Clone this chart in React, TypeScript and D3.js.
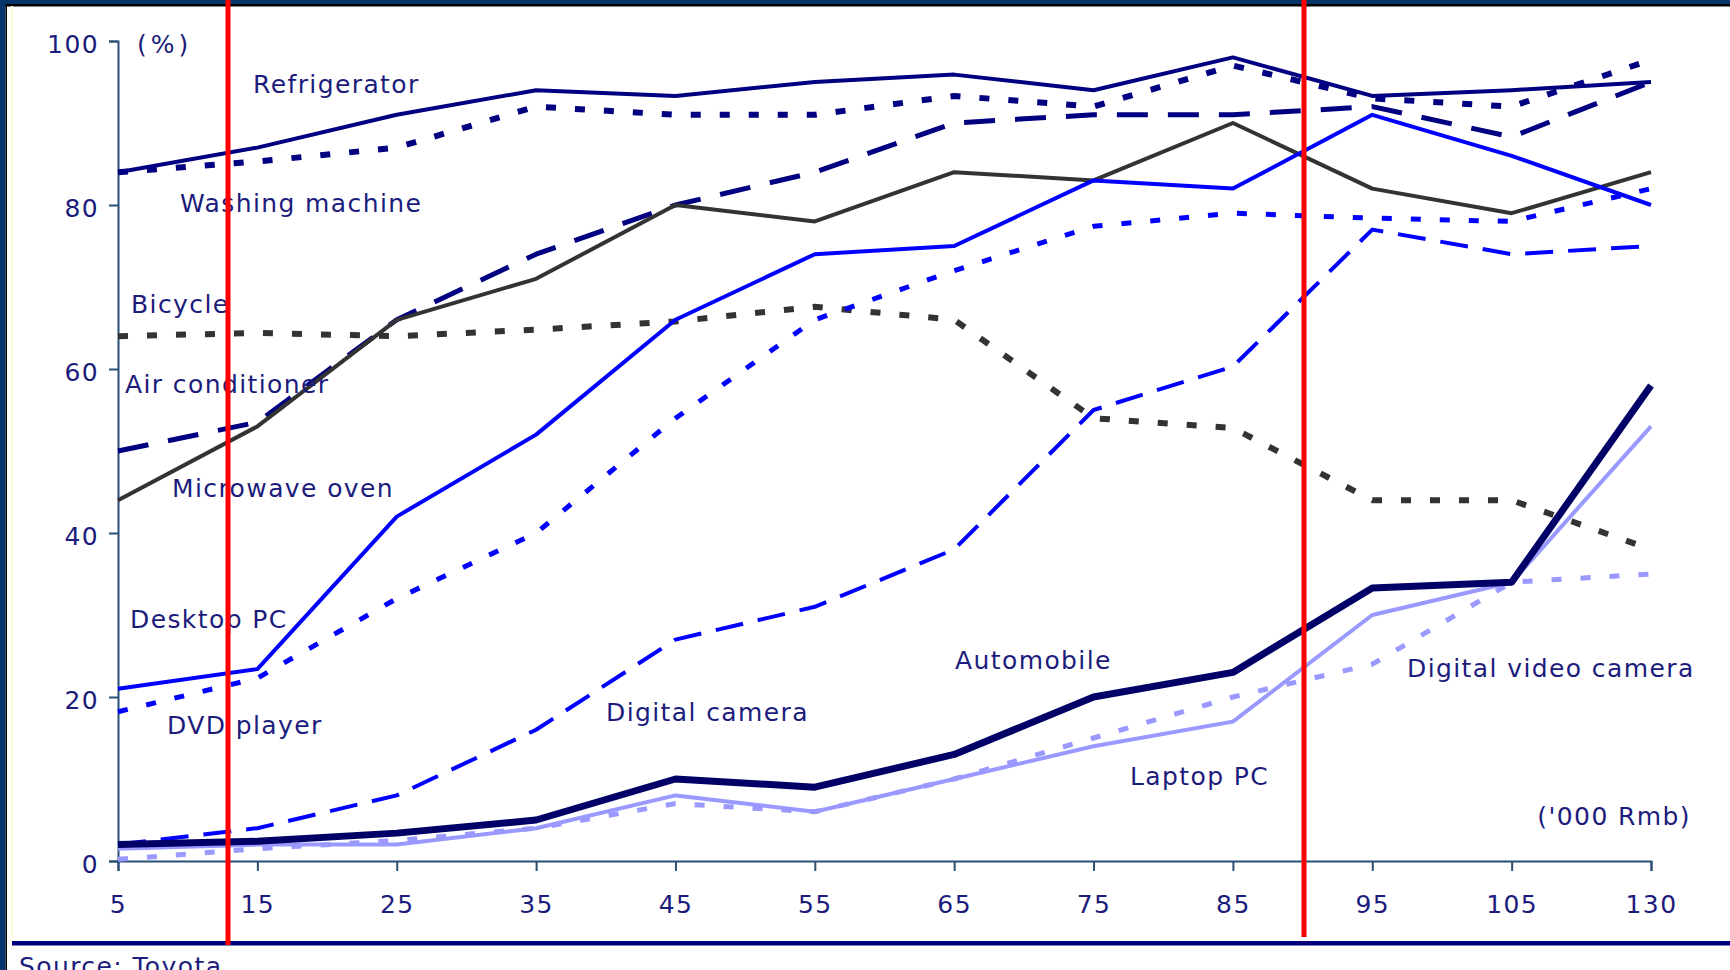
import React, { useEffect, useRef } from "react";
import * as d3 from "d3";

// Household ownership rate (%) by annual household income ('000 Rmb)
const incomeBands = ["5", "15", "25", "35", "45", "55", "65", "75", "85", "95", "105", "130"];

const refrigerator = [84, 87, 91, 94, 93.3, 95, 95.9, 94, 98, 93.3, 94, 95];
const washingMachine = [84, 85.3, 87, 92, 91, 91, 93.3, 92, 97, 93, 92, 97.7];
const airConditioner = [50, 53.5, 66, 74, 80, 84, 90, 91, 91, 92, 88.3, 95];
const microwaveOven = [44, 53, 66, 71, 80, 78, 84, 83, 90, 82, 79, 84];
const bicycle = [64, 64.4, 64, 64.8, 65.8, 67.6, 66, 54, 52.8, 44, 44, 38];
const desktopPC = [21, 23.4, 42, 52, 66, 74, 75, 83, 82, 91, 86, 80];
const dvdPlayer = [18.2, 22.3, 32, 40, 54, 66, 72, 77.4, 79, 78.4, 78, 82];
const digitalCamera = [2, 4, 8, 16, 27, 31, 38, 55, 60.3, 77, 74, 75];
const automobile = [2, 2.4, 3.4, 5, 10, 9, 13, 20, 23, 33.3, 34, 58];
const laptopPC = [1.5, 2, 2, 4, 8, 6, 10, 14, 17, 30, 34, 53];
const digitalVideoCamera = [0.2, 1.5, 2.5, 4, 7, 6, 10, 15, 20, 24, 34, 35];

const yTicks = [0, 20, 40, 60, 80, 100];

type Series = {
  name: string;
  values: number[];
  color: string;
  width: number;
  dash?: string;
};

const series: Series[] = [
  { name: "Bicycle", values: bicycle, color: "#333333", width: 6, dash: "10,19" },
  { name: "Washing machine", values: washingMachine, color: "#000080", width: 6, dash: "10,19" },
  { name: "Refrigerator", values: refrigerator, color: "#000080", width: 4 },
  { name: "Air conditioner", values: airConditioner, color: "#000080", width: 5, dash: "31,20" },
  { name: "Microwave oven", values: microwaveOven, color: "#333333", width: 4 },
  { name: "DVD player", values: dvdPlayer, color: "#0000ff", width: 5, dash: "10,19" },
  { name: "Desktop PC", values: desktopPC, color: "#0000ff", width: 4 },
  { name: "Digital camera", values: digitalCamera, color: "#0000ff", width: 4, dash: "28,15" },
  { name: "Digital video camera", values: digitalVideoCamera, color: "#9999ff", width: 5, dash: "10,19" },
  { name: "Laptop PC", values: laptopPC, color: "#9999ff", width: 4 },
  { name: "Automobile", values: automobile, color: "#000066", width: 7 },
];

// Series labels placed inside the plot
const seriesLabels: { text: string; x: number; y: number }[] = [
  { text: "Refrigerator", x: 253, y: 93 },
  { text: "Washing machine", x: 180, y: 212 },
  { text: "Bicycle", x: 131, y: 313 },
  { text: "Air conditioner", x: 125, y: 393 },
  { text: "Microwave oven", x: 172, y: 497 },
  { text: "Desktop PC", x: 130, y: 628 },
  { text: "DVD player", x: 167, y: 734 },
  { text: "Digital camera", x: 606, y: 721 },
  { text: "Automobile", x: 955, y: 669 },
  { text: "Laptop PC", x: 1130, y: 785 },
  { text: "Digital video camera", x: 1407, y: 677 },
];

const W = 1730;
const H = 970;
const TEXT = "#1c1c7c";
const AXIS = "#2a4f75";
const FONT = "'DejaVu Sans', Verdana, sans-serif";
const FS = 25;
const LS = 1.4;

export default function App() {
  const xAxisRef = useRef<SVGGElement>(null);
  const yAxisRef = useRef<SVGGElement>(null);

  const x = d3.scalePoint<string>().domain(incomeBands).range([118, 1651]);
  const y = d3.scaleLinear().domain([0, 100]).range([861, 41]);

  const line = d3
    .line<number>()
    .x((_, i) => x(incomeBands[i]) as number)
    .y((d) => y(d));

  useEffect(() => {
    const style = (g: d3.Selection<SVGGElement, unknown, null, undefined>) => {
      g.select(".domain").attr("stroke", AXIS).attr("stroke-width", 2);
      g.selectAll(".tick line").attr("stroke", AXIS).attr("stroke-width", 2);
      g.selectAll(".tick text")
        .attr("fill", TEXT)
        .style("font-family", FONT)
        .style("font-size", FS + "px")
        .style("letter-spacing", LS + "px");
    };
    if (yAxisRef.current) {
      const g = d3.select(yAxisRef.current);
      g.call(d3.axisLeft(y).tickValues(yTicks).tickSize(9).tickPadding(10).tickFormat(d3.format("d")));
      style(g);
      g.selectAll(".tick text").attr("dy", "0.44em");
    }
    if (xAxisRef.current) {
      const g = d3.select(xAxisRef.current);
      g.call(d3.axisBottom(x).tickSize(10).tickPadding(24));
      style(g);
    }
  }, []);

  return (
    <svg
      width={W}
      height={H}
      viewBox={`0 0 ${W} ${H}`}
      style={{ position: "absolute", left: 0, top: 0, background: "#ffffff" }}
      fontFamily={FONT}
    >
      <rect x={0} y={0} width={W} height={H} fill="#ffffff" />
      {/* frame */}
      <rect x={0} y={0} width={W} height={4} fill="#06356b" />
      <rect x={0} y={4} width={W} height={2.5} fill="#000000" />
      <rect x={0} y={0} width={5.5} height={H} fill="#06356b" />
      <rect x={5.5} y={4} width={1.5} height={H} fill="#000000" />
      <rect x={11} y={6} width={2} height={937} fill="#fdfbd8" />

      <g ref={yAxisRef} transform={`translate(${x(incomeBands[0])},0)`} />
      <g ref={xAxisRef} transform={`translate(0,${y(0)})`} />

      {series.map((s) => (
        <path
          key={s.name}
          d={line(s.values) || ""}
          fill="none"
          stroke={s.color}
          strokeWidth={s.width}
          strokeDasharray={s.dash}
          strokeLinejoin="round"
          strokeLinecap="butt"
        />
      ))}

      <g fill={TEXT} fontSize={FS} style={{ letterSpacing: LS + "px" }}>
        <text x={137} y={53} style={{ letterSpacing: "4px" }}>(%)</text>
        {seriesLabels.map((l) => (
          <text key={l.text} x={l.x} y={l.y}>
            {l.text}
          </text>
        ))}
        <text x={1691} y={825} textAnchor="end">('000 Rmb)</text>
        <text x={19} y={975}>Source: Toyota</text>
      </g>

      {/* bottom rule */}
      <rect x={12} y={941} width={W - 12} height={4.5} fill="#00007f" />

      {/* vertical markers */}
      <rect x={225.5} y={0} width={5} height={945} fill="#ff0000" />
      <rect x={1301.5} y={0} width={5} height={937} fill="#ff0000" />
    </svg>
  );
}
